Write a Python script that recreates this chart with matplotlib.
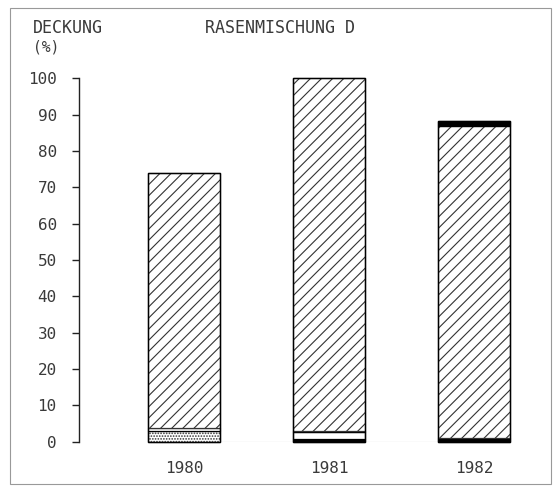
import matplotlib
matplotlib.use("Agg")
import matplotlib.pyplot as plt
from matplotlib.patches import Rectangle
import numpy as np

years = ["1980", "1981", "1982"]
black_bottom = [0.0, 0.8, 1.0]
dotted = [3.0, 0.0, 0.0]
white_gap = [0.0, 1.9, 0.0]
thin_band = [0.8, 0.3, 0.0]
hatched = [70.2, 97.0, 86.0]
black_top = [0.0, 0.0, 1.3]
yticks = [0, 10, 20, 30, 40, 50, 60, 70, 80, 90, 100]

plt.rcParams['hatch.linewidth'] = 0.8
plt.rcParams['hatch.color'] = '#333333'
plt.rcParams['font.family'] = ['DejaVu Sans Mono', 'DejaVu Sans']
TXT = '#3a3a3a'

W, H = 553, 487
fig = plt.figure(figsize=(W/100, H/100), dpi=100)

def fx(px):
    return px / W
def fy(py):
    return (H - py) / H

ax_left, ax_right = 79, 540
ax_bot, ax_top = 441.7, 78.3
ax = fig.add_axes([fx(ax_left), fy(ax_bot), fx(ax_right) - fx(ax_left), fy(ax_top) - fy(ax_bot)])

x = np.arange(len(years))
width = 0.5

layers = [
    (black_bottom, dict(color='black', edgecolor='black')),
    (dotted, dict(color='white', edgecolor='#333333', hatch='......')),
    (white_gap, dict(color='white', edgecolor='black')),
    (thin_band, dict(color='white', edgecolor='black')),
    (hatched, dict(color='white', edgecolor='#333333', hatch='///')),
    (black_top, dict(color='black', edgecolor='black')),
]
bottom = np.zeros(len(years))
for vals, style in layers:
    vals = np.array(vals)
    m = vals > 0
    if m.any():
        ax.bar(x[m], vals[m], width, bottom=bottom[m], linewidth=0.9,
               clip_on=False, zorder=3, **style)
    bottom = bottom + vals

# outline around each full bar
ax.bar(x, bottom, width, fill=False, edgecolor='black', linewidth=1.0, clip_on=False, zorder=4)

# faint baseline between bars
ax.plot([x[0] + width/2, x[-1] - width/2], [0, 0], color='#aaaaaa', lw=0.8, zorder=1)

ax.set_xlim((ax_left - 184) / 145, (ax_right - 184) / 145)
ax.set_ylim(0, 100)
for s in ['top', 'right', 'bottom']:
    ax.spines[s].set_visible(False)
ax.spines['left'].set_color('#222222')
ax.spines['left'].set_linewidth(1.0)
ax.set_yticks(yticks)
ax.set_yticklabels([str(v) for v in yticks], fontsize=11.5, color=TXT)
ax.tick_params(axis='y', direction='out', length=5, width=1, pad=11, colors='#222222')
for lab in ax.get_yticklabels():
    lab.set_color(TXT)
ax.set_xticks(x)
ax.set_xticklabels(years, fontsize=11.5, color=TXT)
ax.tick_params(axis='x', length=0, pad=14)

fig.text(fx(33), fy(28), "DECKUNG", fontsize=12, color=TXT, va='center', ha='left')
fig.text(fx(205), fy(28), "RASENMISCHUNG D", fontsize=12, color=TXT, va='center', ha='left')
fig.text(fx(33), fy(47), "(%)", fontsize=10.5, color=TXT, va='center', ha='left')

# outer frame
fig.patches.append(Rectangle((fx(10), fy(484)), fx(551) - fx(10), fy(8) - fy(484),
                             transform=fig.transFigure, fill=False,
                             edgecolor='#999999', lw=0.8))

fig.savefig("out.png", dpi=100)
